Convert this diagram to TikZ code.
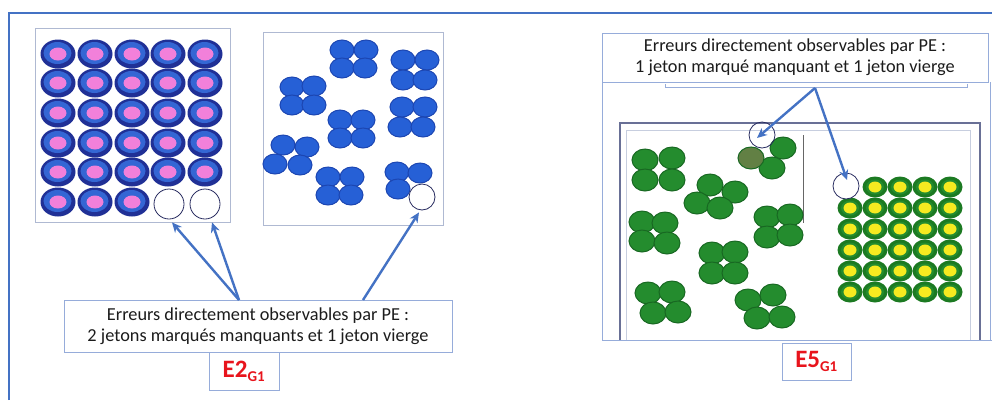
\documentclass[tikz,border=0pt]{standalone}
\usepackage{fontspec}
\setmainfont{Carlito}
\usetikzlibrary{arrows.meta}
\definecolor{frameblue}{RGB}{68,114,196}
\definecolor{boxblue}{RGB}{150,172,218}
\definecolor{photoedge}{RGB}{175,185,210}
\definecolor{darkedge}{RGB}{105,112,150}
\definecolor{navy}{RGB}{32,48,150}
\definecolor{midblue}{RGB}{52,102,212}
\definecolor{pinktok}{RGB}{242,128,218}
\definecolor{bluetok}{RGB}{38,96,214}
\definecolor{bluetokedge}{RGB}{28,70,178}
\definecolor{greentok}{RGB}{36,140,46}
\definecolor{greentokedge}{RGB}{24,104,34}
\definecolor{olivetok}{RGB}{98,128,68}
\definecolor{yellowtok}{RGB}{246,234,32}
\definecolor{ringgreen}{RGB}{28,122,34}
\definecolor{circedge}{RGB}{40,44,96}
\definecolor{labelred}{RGB}{232,20,28}
\definecolor{txt}{RGB}{28,28,28}
\newcommand{\pinktoken}[2]{%
  \fill[navy] (#1,#2) ellipse [x radius=17.5pt, y radius=14.5pt];
  \fill[midblue] (#1-0.5,#2-1) ellipse [x radius=14pt, y radius=11pt];
  \fill[pinktok] (#1,#2) ellipse [x radius=8.5pt, y radius=6.5pt];}
\newcommand{\bluetoken}[2]{%
  \filldraw[fill=bluetok,draw=bluetokedge,line width=1pt] (#1,#2) ellipse [x radius=12pt, y radius=10pt];}
\newcommand{\greentoken}[2]{%
  \filldraw[fill=greentok,draw=greentokedge,line width=1pt] (#1,#2) ellipse [x radius=13pt, y radius=11pt];}
\newcommand{\yellowtoken}[2]{%
  \fill[ringgreen] (#1,#2) ellipse [x radius=12.5pt, y radius=10.5pt];
  \fill[greentok] (#1,#2) ellipse [x radius=9pt, y radius=7.5pt];
  \fill[yellowtok] (#1,#2) ellipse [x radius=6.5pt, y radius=5.5pt];}
\begin{document}
\begin{tikzpicture}[x=1pt,y=-1pt,
  textbox/.style={draw=boxblue,line width=0.9pt,fill=white,align=center,text=txt,
    font=\fontsize{18.3}{21}\selectfont,inner sep=0pt},
  labelbox/.style={draw=boxblue,line width=0.9pt,fill=white,text=labelred,
    font=\fontsize{25}{26}\selectfont\bfseries,inner sep=0pt},
  gap/.style={circle,draw=circedge,fill=white,line width=0.8pt,inner sep=0pt},
  arr/.style={draw=frameblue,line width=2.4pt,-{Stealth[length=10pt,width=9pt]}}]
\useasboundingbox (0,0) rectangle (992,400);
\fill[white] (0,0) rectangle (992,400);
% outer frame (right and bottom edges are outside the picture)
\draw[frameblue,line width=1.2pt] (9,400) -- (9,13) -- (992,13);
% ---------- left photo: grid of marked tokens ----------
\draw[photoedge,line width=0.8pt,fill=white] (35,28) rectangle (230,222);
\foreach \y in {54,83,113,143,172}{
  \foreach \x in {58,95,132,168,205}{\pinktoken{\x}{\y}}}
\foreach \x in {58,95,132}{\pinktoken{\x}{202}}
\node[gap,minimum size=30pt] (c1) at (169,204) {};
\node[gap,minimum size=30pt] (c2) at (205,204) {};
% ---------- middle photo: blank tokens ----------
\draw[photoedge,line width=0.8pt,fill=white] (263,32) rectangle (443,225);
\foreach \x/\y in {342/50,366/50,342/68,365/68,
                   403/60,427/60,403/80,425/80,
                   292/87,314/86,292/105,314/105,
                   340/120,363/120,340/138,363/138,
                   402/107,425/107,400/127,423/127,
                   283/145,307/147,275/164,300/165,
                   328/177,352/177,328/195,351/195,
                   397/172,420/173,398/189}{\bluetoken{\x}{\y}}
\node[gap,minimum size=26pt] (c3) at (422,197) {};
% ---------- right group ----------
\draw[boxblue,line width=0.9pt] (602,82) -- (602,340) -- (992,340);
\draw[boxblue,line width=0.9pt] (990,82) -- (990,340);
\draw[boxblue,line width=0.9pt] (665,84) -- (665,87) -- (967,87) -- (967,84);
\draw[darkedge,line width=1.2pt] (620,340) -- (620,123) -- (980,123) -- (980,340);
\draw[photoedge!70,line width=0.8pt] (626,340) -- (626,130) -- (970,130) -- (970,340);
\draw[black!60,line width=0.9pt] (803,135) -- (803,223);
\foreach \x/\y in {645/160,672/158,645/180,672/180,
                   783/148,772/168,
                   710/185,735/192,697/203,720/208,
                   642/222,665/223,642/241,667/243,
                   767/217,790/215,767/237,790/235,
                   712/253,735/252,712/273,735/273,
                   648/293,672/292,653/313,678/312,
                   748/300,773/295,757/318,782/317}{\greentoken{\x}{\y}}
\filldraw[fill=olivetok,draw=greentokedge,line width=1pt] (751,158) ellipse [x radius=13pt, y radius=11pt];
\foreach \x in {875,900,925,950}{\yellowtoken{\x}{187}}
\foreach \y in {208,229,250,271,292}{
  \foreach \x in {850,875,900,925,950}{\yellowtoken{\x}{\y}}}
\node[gap,minimum size=26pt,fill=none] (c4) at (762,135) {};
\node[gap,minimum size=26pt] (c5) at (846,186) {};
% ---------- text boxes ----------
\node[textbox,minimum width=388pt,minimum height=52pt] (t1) at (258,326)
  {Erreurs directement observables par PE :\\2 jetons marqués manquants et 1 jeton vierge};
\node[labelbox,minimum width=70pt,minimum height=38pt] (l1) at (244,371)
  {E2\textsubscript{\fontsize{15}{15}\selectfont G1}};
\node[textbox,minimum width=386pt,minimum height=49pt] (t2) at (795,57.5)
  {Erreurs directement observables par PE :\\1 jeton marqué manquant et 1 jeton vierge};
\node[labelbox,minimum width=69pt,minimum height=37pt] (l2) at (816.5,361.5)
  {E5\textsubscript{\fontsize{15}{15}\selectfont G1}};
% ---------- connectors ----------
\coordinate (s1) at (239,300);
\coordinate (s2) at (363,300);
\coordinate (s3) at (815,88);
\draw[arr] (s1) -- ([shift={(3,3)}]c1.south);
\draw[arr] (s1) -- ([shift={(7,3)}]c2.south);
\draw[arr] (s2) -- ([shift={(-3,2)}]c3.south);
\draw[arr] (s3) -- ([shift={(-5,3)}]c4.center);
\draw[arr] (s3) -- ([shift={(1,-6)}]c5.center);
\end{tikzpicture}
\end{document}
